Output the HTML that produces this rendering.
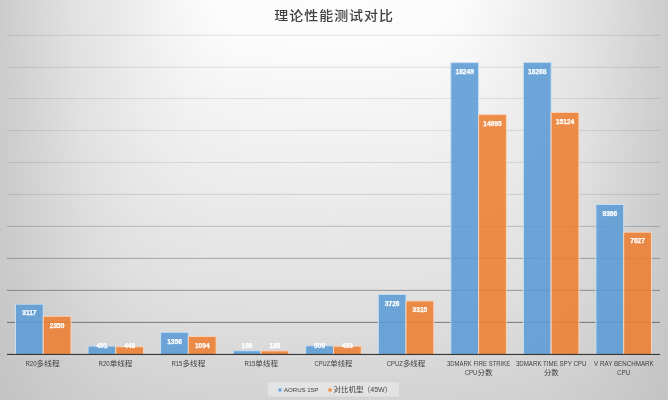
<!DOCTYPE html>
<html><head><meta charset="utf-8">
<style>
html,body{margin:0;padding:0;}
body{width:668px;height:400px;overflow:hidden;position:relative;
background:linear-gradient(90deg,#cccccc 0px,#d2d2d2 22px,#e1e1e1 74px,#f7f7f7 181px,#fcfcfc 213px,#fdfdfd 302px,#fdfdfd 334px,#fdfdfd 366px,#fcfcfc 455px,#f7f7f7 487px,#e1e1e1 594px,#d2d2d2 646px,#cccccc 668px) 0 0px/668px 2px no-repeat,
linear-gradient(90deg,#cccccc 0px,#d2d2d2 21px,#e1e1e1 74px,#f7f7f7 180px,#fcfcfc 214px,#fdfdfd 305px,#fdfdfd 334px,#fdfdfd 363px,#fcfcfc 454px,#f7f7f7 488px,#e1e1e1 594px,#d2d2d2 647px,#cccccc 668px) 0 2px/668px 2px no-repeat,
linear-gradient(90deg,#cccccc 0px,#d2d2d2 21px,#e1e1e1 74px,#f7f7f7 180px,#fcfcfc 214px,#fdfdfd 307px,#fdfdfd 334px,#fdfdfd 361px,#fcfcfc 454px,#f7f7f7 488px,#e1e1e1 594px,#d2d2d2 647px,#cccccc 668px) 0 4px/668px 2px no-repeat,
linear-gradient(90deg,#cccccc 0px,#d2d2d2 21px,#e1e1e1 74px,#f6f6f6 179px,#fcfcfc 215px,#fdfdfd 311px,#fdfdfd 334px,#fdfdfd 357px,#fcfcfc 453px,#f6f6f6 489px,#e1e1e1 594px,#d2d2d2 647px,#cccccc 668px) 0 6px/668px 2px no-repeat,
linear-gradient(90deg,#cccccc 0px,#d2d2d2 21px,#e1e1e1 74px,#f6f6f6 178px,#fcfcfc 216px,#fdfdfd 317px,#fdfdfd 334px,#fdfdfd 351px,#fcfcfc 452px,#f6f6f6 490px,#e1e1e1 594px,#d2d2d2 647px,#cccccc 668px) 0 8px/668px 2px no-repeat,
linear-gradient(90deg,#cccccc 0px,#d2d2d2 21px,#e1e1e1 74px,#f6f6f6 178px,#fcfcfc 217px,#fdfdfd 322px,#fdfdfd 334px,#fdfdfd 346px,#fcfcfc 451px,#f6f6f6 490px,#e1e1e1 594px,#d2d2d2 647px,#cccccc 668px) 0 10px/668px 2px no-repeat,
linear-gradient(90deg,#cccccc 0px,#d2d2d2 21px,#e1e1e1 74px,#f6f6f6 177px,#fcfcfc 217px,#fcfcfc 309px,#fcfcfc 334px,#fcfcfc 359px,#fcfcfc 451px,#f6f6f6 491px,#e1e1e1 594px,#d2d2d2 647px,#cccccc 668px) 0 12px/668px 2px no-repeat,
linear-gradient(90deg,#cccccc 0px,#d2d2d2 22px,#e1e1e1 74px,#f6f6f6 176px,#fbfbfb 216px,#fcfcfc 276px,#fcfcfc 334px,#fcfcfc 392px,#fbfbfb 452px,#f6f6f6 492px,#e1e1e1 594px,#d2d2d2 646px,#cccccc 668px) 0 14px/668px 2px no-repeat,
linear-gradient(90deg,#cccccc 0px,#d2d2d2 22px,#e1e1e1 74px,#f5f5f5 175px,#fbfbfb 215px,#fcfcfc 234px,#fcfcfc 334px,#fcfcfc 434px,#fbfbfb 453px,#f5f5f5 493px,#e1e1e1 594px,#d2d2d2 646px,#cccccc 668px) 0 16px/668px 2px no-repeat,
linear-gradient(90deg,#cccccc 0px,#d2d2d2 22px,#e1e1e1 74px,#f5f5f5 175px,#fbfbfb 215px,#fcfcfc 233px,#fcfcfc 334px,#fcfcfc 435px,#fbfbfb 453px,#f5f5f5 493px,#e1e1e1 594px,#d2d2d2 646px,#cccccc 668px) 0 18px/668px 2px no-repeat,
linear-gradient(90deg,#cccccc 0px,#d2d2d2 22px,#e1e1e1 74px,#f5f5f5 174px,#fbfbfb 214px,#fcfcfc 232px,#fcfcfc 334px,#fcfcfc 436px,#fbfbfb 454px,#f5f5f5 494px,#e1e1e1 594px,#d2d2d2 646px,#cccccc 668px) 0 20px/668px 2px no-repeat,
linear-gradient(90deg,#cccccc 0px,#d2d2d2 22px,#e1e1e1 74px,#f5f5f5 173px,#fbfbfb 214px,#fcfcfc 233px,#fcfcfc 334px,#fcfcfc 435px,#fbfbfb 454px,#f5f5f5 495px,#e1e1e1 594px,#d2d2d2 646px,#cccccc 668px) 0 22px/668px 2px no-repeat,
linear-gradient(90deg,#cccccc 0px,#d2d2d2 22px,#e1e1e1 74px,#f4f4f4 172px,#fafafa 213px,#fcfcfc 235px,#fcfcfc 334px,#fcfcfc 433px,#fafafa 455px,#f4f4f4 496px,#e1e1e1 594px,#d2d2d2 646px,#cccccc 668px) 0 24px/668px 2px no-repeat,
linear-gradient(90deg,#cccccc 0px,#d2d2d2 22px,#e1e1e1 75px,#f4f4f4 171px,#fafafa 212px,#fcfcfc 237px,#fcfcfc 334px,#fcfcfc 431px,#fafafa 456px,#f4f4f4 497px,#e1e1e1 593px,#d2d2d2 646px,#cccccc 668px) 0 26px/668px 2px no-repeat,
linear-gradient(90deg,#cccccc 0px,#d2d2d2 22px,#e1e1e1 75px,#f4f4f4 170px,#fafafa 211px,#fcfcfc 239px,#fcfcfc 334px,#fcfcfc 429px,#fafafa 457px,#f4f4f4 498px,#e1e1e1 593px,#d2d2d2 646px,#cccccc 668px) 0 28px/668px 2px no-repeat,
linear-gradient(90deg,#cccccc 0px,#d2d2d2 22px,#e1e1e1 75px,#f4f4f4 169px,#fafafa 210px,#fcfcfc 242px,#fcfcfc 334px,#fcfcfc 426px,#fafafa 458px,#f4f4f4 499px,#e1e1e1 593px,#d2d2d2 646px,#cccccc 668px) 0 30px/668px 2px no-repeat,
linear-gradient(90deg,#cccccc 0px,#d2d2d2 22px,#e1e1e1 75px,#f3f3f3 168px,#f9f9f9 209px,#fcfcfc 244px,#fcfcfc 334px,#fcfcfc 424px,#f9f9f9 459px,#f3f3f3 500px,#e1e1e1 593px,#d2d2d2 646px,#cccccc 668px) 0 32px/668px 2px no-repeat,
linear-gradient(90deg,#cccccc 0px,#d2d2d2 21px,#e1e1e1 75px,#f3f3f3 167px,#f9f9f9 208px,#fcfcfc 246px,#fcfcfc 334px,#fcfcfc 422px,#f9f9f9 460px,#f3f3f3 501px,#e1e1e1 593px,#d2d2d2 647px,#cccccc 668px) 0 34px/668px 2px no-repeat,
linear-gradient(90deg,#cccccc 0px,#d2d2d2 21px,#e1e1e1 75px,#f3f3f3 166px,#f9f9f9 207px,#fcfcfc 246px,#fcfcfc 334px,#fcfcfc 422px,#f9f9f9 461px,#f3f3f3 502px,#e1e1e1 593px,#d2d2d2 647px,#cccccc 668px) 0 36px/668px 2px no-repeat,
linear-gradient(90deg,#cccccc 0px,#d2d2d2 21px,#e1e1e1 75px,#f3f3f3 165px,#f9f9f9 207px,#fbfbfb 246px,#fcfcfc 334px,#fbfbfb 422px,#f9f9f9 461px,#f3f3f3 503px,#e1e1e1 593px,#d2d2d2 647px,#cccccc 668px) 0 38px/668px 2px no-repeat,
linear-gradient(90deg,#cccccc 0px,#d2d2d2 21px,#e1e1e1 75px,#f2f2f2 164px,#f8f8f8 206px,#fbfbfb 245px,#fcfcfc 309px,#fcfcfc 334px,#fcfcfc 359px,#fbfbfb 423px,#f8f8f8 462px,#f2f2f2 504px,#e1e1e1 593px,#d2d2d2 647px,#cccccc 668px) 0 40px/668px 2px no-repeat,
linear-gradient(90deg,#cccccc 0px,#d2d2d2 21px,#e1e1e1 75px,#f2f2f2 163px,#f8f8f8 205px,#fbfbfb 244px,#fcfcfc 319px,#fcfcfc 334px,#fcfcfc 349px,#fbfbfb 424px,#f8f8f8 463px,#f2f2f2 505px,#e1e1e1 593px,#d2d2d2 647px,#cccccc 668px) 0 42px/668px 2px no-repeat,
linear-gradient(90deg,#cccccc 0px,#d1d1d1 20px,#e1e1e1 75px,#f2f2f2 162px,#f8f8f8 204px,#fbfbfb 243px,#fbfbfb 316px,#fbfbfb 334px,#fbfbfb 352px,#fbfbfb 425px,#f8f8f8 464px,#f2f2f2 506px,#e1e1e1 593px,#d1d1d1 648px,#cccccc 668px) 0 44px/668px 2px no-repeat,
linear-gradient(90deg,#cccccc 0px,#d1d1d1 20px,#e1e1e1 75px,#f2f2f2 161px,#f8f8f8 203px,#fafafa 242px,#fbfbfb 314px,#fbfbfb 334px,#fbfbfb 354px,#fafafa 426px,#f8f8f8 465px,#f2f2f2 507px,#e1e1e1 593px,#d1d1d1 648px,#cccccc 668px) 0 46px/668px 2px no-repeat,
linear-gradient(90deg,#cccccc 0px,#d1d1d1 20px,#e1e1e1 76px,#f1f1f1 160px,#f7f7f7 202px,#fafafa 241px,#fbfbfb 312px,#fbfbfb 334px,#fbfbfb 356px,#fafafa 427px,#f7f7f7 466px,#f1f1f1 508px,#e1e1e1 592px,#d1d1d1 648px,#cccccc 668px) 0 48px/668px 2px no-repeat,
linear-gradient(90deg,#cccccc 0px,#d1d1d1 20px,#e1e1e1 76px,#f1f1f1 159px,#f7f7f7 201px,#fafafa 241px,#fbfbfb 314px,#fbfbfb 334px,#fbfbfb 354px,#fafafa 427px,#f7f7f7 467px,#f1f1f1 509px,#e1e1e1 592px,#d1d1d1 648px,#cccccc 668px) 0 50px/668px 2px no-repeat,
linear-gradient(90deg,#cccccc 0px,#d1d1d1 20px,#e1e1e1 76px,#f1f1f1 158px,#f7f7f7 201px,#fafafa 241px,#fbfbfb 315px,#fbfbfb 334px,#fbfbfb 353px,#fafafa 427px,#f7f7f7 467px,#f1f1f1 510px,#e1e1e1 592px,#d1d1d1 648px,#cccccc 668px) 0 52px/668px 2px no-repeat,
linear-gradient(90deg,#cccccc 0px,#d1d1d1 20px,#e1e1e1 76px,#f1f1f1 157px,#f7f7f7 200px,#fafafa 240px,#fafafa 313px,#fafafa 334px,#fafafa 355px,#fafafa 428px,#f7f7f7 468px,#f1f1f1 511px,#e1e1e1 592px,#d1d1d1 648px,#cccccc 668px) 0 54px/668px 2px no-repeat,
linear-gradient(90deg,#cccccc 0px,#d1d1d1 20px,#e1e1e1 76px,#f0f0f0 156px,#f6f6f6 199px,#f9f9f9 239px,#fafafa 311px,#fafafa 334px,#fafafa 357px,#f9f9f9 429px,#f6f6f6 469px,#f0f0f0 512px,#e1e1e1 592px,#d1d1d1 648px,#cccccc 668px) 0 56px/668px 2px no-repeat,
linear-gradient(90deg,#cccccc 0px,#d1d1d1 20px,#e1e1e1 76px,#f0f0f0 155px,#f6f6f6 198px,#f9f9f9 238px,#fafafa 309px,#fafafa 334px,#fafafa 359px,#f9f9f9 430px,#f6f6f6 470px,#f0f0f0 513px,#e1e1e1 592px,#d1d1d1 648px,#cccccc 668px) 0 58px/668px 2px no-repeat,
linear-gradient(90deg,#cccccc 0px,#d1d1d1 20px,#e1e1e1 76px,#f0f0f0 154px,#f6f6f6 197px,#f9f9f9 237px,#fafafa 307px,#fafafa 334px,#fafafa 361px,#f9f9f9 431px,#f6f6f6 471px,#f0f0f0 514px,#e1e1e1 592px,#d1d1d1 648px,#cccccc 668px) 0 60px/668px 2px no-repeat,
linear-gradient(90deg,#cccccc 0px,#d1d1d1 20px,#e1e1e1 76px,#f0f0f0 153px,#f6f6f6 196px,#f9f9f9 236px,#fafafa 305px,#fafafa 334px,#fafafa 363px,#f9f9f9 432px,#f6f6f6 472px,#f0f0f0 515px,#e1e1e1 592px,#d1d1d1 648px,#cccccc 668px) 0 62px/668px 2px no-repeat,
linear-gradient(90deg,#cccccc 0px,#d1d1d1 20px,#e1e1e1 77px,#efefef 153px,#f6f6f6 196px,#f8f8f8 236px,#f9f9f9 306px,#f9f9f9 334px,#f9f9f9 362px,#f8f8f8 432px,#f6f6f6 472px,#efefef 515px,#e1e1e1 591px,#d1d1d1 648px,#cccccc 668px) 0 64px/668px 2px no-repeat,
linear-gradient(90deg,#cccccc 0px,#d1d1d1 21px,#e1e1e1 77px,#efefef 152px,#f5f5f5 195px,#f8f8f8 236px,#f9f9f9 308px,#f9f9f9 334px,#f9f9f9 360px,#f8f8f8 432px,#f5f5f5 473px,#efefef 516px,#e1e1e1 591px,#d1d1d1 647px,#cccccc 668px) 0 66px/668px 2px no-repeat,
linear-gradient(90deg,#cccccc 0px,#d1d1d1 21px,#e1e1e1 77px,#efefef 151px,#f5f5f5 194px,#f8f8f8 235px,#f9f9f9 306px,#f9f9f9 334px,#f9f9f9 362px,#f8f8f8 433px,#f5f5f5 474px,#efefef 517px,#e1e1e1 591px,#d1d1d1 647px,#cccccc 668px) 0 68px/668px 2px no-repeat,
linear-gradient(90deg,#cccccc 0px,#d1d1d1 20px,#e1e1e1 77px,#efefef 150px,#f5f5f5 193px,#f8f8f8 234px,#f9f9f9 304px,#f9f9f9 334px,#f9f9f9 364px,#f8f8f8 434px,#f5f5f5 475px,#efefef 518px,#e1e1e1 591px,#d1d1d1 648px,#cccccc 668px) 0 70px/668px 2px no-repeat,
linear-gradient(90deg,#cccccc 0px,#d1d1d1 20px,#e1e1e1 77px,#eeeeee 149px,#f5f5f5 193px,#f8f8f8 234px,#f8f8f8 305px,#f8f8f8 334px,#f8f8f8 363px,#f8f8f8 434px,#f5f5f5 475px,#eeeeee 519px,#e1e1e1 591px,#d1d1d1 648px,#cccccc 668px) 0 72px/668px 2px no-repeat,
linear-gradient(90deg,#cccccc 0px,#d1d1d1 20px,#e1e1e1 77px,#eeeeee 148px,#f4f4f4 192px,#f7f7f7 233px,#f8f8f8 303px,#f8f8f8 334px,#f8f8f8 365px,#f7f7f7 435px,#f4f4f4 476px,#eeeeee 520px,#e1e1e1 591px,#d1d1d1 648px,#cccccc 668px) 0 74px/668px 2px no-repeat,
linear-gradient(90deg,#cccccc 0px,#d1d1d1 20px,#e1e1e1 77px,#eeeeee 147px,#f4f4f4 191px,#f7f7f7 232px,#f8f8f8 301px,#f8f8f8 334px,#f8f8f8 367px,#f7f7f7 436px,#f4f4f4 477px,#eeeeee 521px,#e1e1e1 591px,#d1d1d1 648px,#cccccc 668px) 0 76px/668px 2px no-repeat,
linear-gradient(90deg,#cccccc 0px,#d1d1d1 20px,#e1e1e1 78px,#eeeeee 147px,#f4f4f4 191px,#f7f7f7 232px,#f8f8f8 303px,#f8f8f8 334px,#f8f8f8 365px,#f7f7f7 436px,#f4f4f4 477px,#eeeeee 521px,#e1e1e1 590px,#d1d1d1 648px,#cccccc 668px) 0 78px/668px 2px no-repeat,
linear-gradient(90deg,#cccccc 0px,#d1d1d1 20px,#e1e1e1 78px,#eeeeee 146px,#f4f4f4 190px,#f7f7f7 231px,#f8f8f8 301px,#f8f8f8 334px,#f8f8f8 367px,#f7f7f7 437px,#f4f4f4 478px,#eeeeee 522px,#e1e1e1 590px,#d1d1d1 648px,#cccccc 668px) 0 80px/668px 2px no-repeat,
linear-gradient(90deg,#cccccc 0px,#d1d1d1 19px,#e1e1e1 78px,#ededed 146px,#f4f4f4 190px,#f6f6f6 232px,#f7f7f7 305px,#f7f7f7 334px,#f7f7f7 363px,#f6f6f6 436px,#f4f4f4 478px,#ededed 522px,#e1e1e1 590px,#d1d1d1 649px,#cccccc 668px) 0 82px/668px 2px no-repeat,
linear-gradient(90deg,#cccccc 0px,#d1d1d1 19px,#e1e1e1 78px,#ededed 145px,#f3f3f3 189px,#f6f6f6 231px,#f7f7f7 303px,#f7f7f7 334px,#f7f7f7 365px,#f6f6f6 437px,#f3f3f3 479px,#ededed 523px,#e1e1e1 590px,#d1d1d1 649px,#cccccc 668px) 0 84px/668px 2px no-repeat,
linear-gradient(90deg,#cccccc 0px,#d1d1d1 19px,#e1e1e1 78px,#ededed 145px,#f3f3f3 189px,#f6f6f6 231px,#f7f7f7 305px,#f7f7f7 334px,#f7f7f7 363px,#f6f6f6 437px,#f3f3f3 479px,#ededed 523px,#e1e1e1 590px,#d1d1d1 649px,#cccccc 668px) 0 86px/668px 2px no-repeat,
linear-gradient(90deg,#cccccc 0px,#d1d1d1 20px,#e1e1e1 78px,#ededed 145px,#f3f3f3 190px,#f6f6f6 232px,#f7f7f7 310px,#f7f7f7 334px,#f7f7f7 358px,#f6f6f6 436px,#f3f3f3 478px,#ededed 523px,#e1e1e1 590px,#d1d1d1 648px,#cccccc 668px) 0 88px/668px 2px no-repeat,
linear-gradient(90deg,#cccccc 0px,#d1d1d1 20px,#e1e1e1 78px,#ededed 144px,#f3f3f3 189px,#f6f6f6 231px,#f7f7f7 308px,#f7f7f7 334px,#f7f7f7 360px,#f6f6f6 437px,#f3f3f3 479px,#ededed 524px,#e1e1e1 590px,#d1d1d1 648px,#cccccc 668px) 0 90px/668px 2px no-repeat,
linear-gradient(90deg,#cccccc 0px,#d1d1d1 20px,#e1e1e1 79px,#ededed 144px,#f3f3f3 189px,#f5f5f5 232px,#f6f6f6 313px,#f6f6f6 334px,#f6f6f6 355px,#f5f5f5 436px,#f3f3f3 479px,#ededed 524px,#e1e1e1 589px,#d1d1d1 648px,#cccccc 668px) 0 92px/668px 2px no-repeat,
linear-gradient(90deg,#cccccc 0px,#d1d1d1 20px,#e1e1e1 79px,#ededed 144px,#f2f2f2 189px,#f5f5f5 232px,#f6f6f6 315px,#f6f6f6 334px,#f6f6f6 353px,#f5f5f5 436px,#f2f2f2 479px,#ededed 524px,#e1e1e1 589px,#d1d1d1 648px,#cccccc 668px) 0 94px/668px 2px no-repeat,
linear-gradient(90deg,#cccccc 0px,#d1d1d1 20px,#e1e1e1 79px,#ededed 144px,#f2f2f2 189px,#f5f5f5 232px,#f6f6f6 317px,#f6f6f6 334px,#f6f6f6 351px,#f5f5f5 436px,#f2f2f2 479px,#ededed 524px,#e1e1e1 589px,#d1d1d1 648px,#cccccc 668px) 0 96px/668px 2px no-repeat,
linear-gradient(90deg,#cccccc 0px,#d1d1d1 20px,#e1e1e1 79px,#ececec 143px,#f2f2f2 189px,#f5f5f5 233px,#f6f6f6 324px,#f6f6f6 334px,#f6f6f6 344px,#f5f5f5 435px,#f2f2f2 479px,#ececec 525px,#e1e1e1 589px,#d1d1d1 648px,#cccccc 668px) 0 98px/668px 2px no-repeat,
linear-gradient(90deg,#cccccc 0px,#d1d1d1 20px,#e1e1e1 79px,#ececec 143px,#f2f2f2 189px,#f5f5f5 233px,#f5f5f5 326px,#f5f5f5 334px,#f5f5f5 342px,#f5f5f5 435px,#f2f2f2 479px,#ececec 525px,#e1e1e1 589px,#d1d1d1 648px,#cccccc 668px) 0 100px/668px 2px no-repeat,
linear-gradient(90deg,#cccccc 0px,#d1d1d1 20px,#e1e1e1 79px,#ececec 142px,#f2f2f2 188px,#f4f4f4 232px,#f5f5f5 323px,#f5f5f5 334px,#f5f5f5 345px,#f4f4f4 436px,#f2f2f2 480px,#ececec 526px,#e1e1e1 589px,#d1d1d1 648px,#cccccc 668px) 0 102px/668px 2px no-repeat,
linear-gradient(90deg,#cccccc 0px,#d1d1d1 20px,#e1e1e1 80px,#ececec 143px,#f2f2f2 189px,#f4f4f4 233px,#f5f5f5 331px,#f5f5f5 334px,#f5f5f5 337px,#f4f4f4 435px,#f2f2f2 479px,#ececec 525px,#e1e1e1 588px,#d1d1d1 648px,#cccccc 668px) 0 104px/668px 2px no-repeat,
linear-gradient(90deg,#cccccc 0px,#d0d0d0 19px,#e1e1e1 80px,#ececec 142px,#f1f1f1 188px,#f4f4f4 232px,#f5f5f5 328px,#f5f5f5 334px,#f5f5f5 340px,#f4f4f4 436px,#f1f1f1 480px,#ececec 526px,#e1e1e1 588px,#d0d0d0 649px,#cccccc 668px) 0 106px/668px 2px no-repeat,
linear-gradient(90deg,#cccccc 0px,#d1d1d1 20px,#e1e1e1 80px,#ececec 142px,#f1f1f1 189px,#f4f4f4 234px,#f5f5f5 334px,#f4f4f4 434px,#f1f1f1 479px,#ececec 526px,#e1e1e1 588px,#d1d1d1 648px,#cccccc 668px) 0 108px/668px 2px no-repeat,
linear-gradient(90deg,#cccccc 0px,#d1d1d1 20px,#e1e1e1 80px,#ececec 142px,#f1f1f1 189px,#f4f4f4 234px,#f4f4f4 334px,#f4f4f4 434px,#f1f1f1 479px,#ececec 526px,#e1e1e1 588px,#d1d1d1 648px,#cccccc 668px) 0 110px/668px 2px no-repeat,
linear-gradient(90deg,#cccccc 0px,#d1d1d1 20px,#e1e1e1 80px,#ebebeb 141px,#f1f1f1 188px,#f3f3f3 233px,#f4f4f4 334px,#f3f3f3 435px,#f1f1f1 480px,#ebebeb 527px,#e1e1e1 588px,#d1d1d1 648px,#cccccc 668px) 0 112px/668px 2px no-repeat,
linear-gradient(90deg,#cccccc 0px,#d1d1d1 20px,#e1e1e1 80px,#ebebeb 141px,#f1f1f1 188px,#f3f3f3 234px,#f4f4f4 334px,#f3f3f3 434px,#f1f1f1 480px,#ebebeb 527px,#e1e1e1 588px,#d1d1d1 648px,#cccccc 668px) 0 114px/668px 2px no-repeat,
linear-gradient(90deg,#cccccc 0px,#d1d1d1 21px,#e1e1e1 81px,#ebebeb 141px,#f1f1f1 188px,#f3f3f3 234px,#f4f4f4 334px,#f3f3f3 434px,#f1f1f1 480px,#ebebeb 527px,#e1e1e1 587px,#d1d1d1 647px,#cccccc 668px) 0 116px/668px 2px no-repeat,
linear-gradient(90deg,#cccccc 0px,#d0d0d0 20px,#e1e1e1 81px,#ebebeb 141px,#f1f1f1 189px,#f3f3f3 236px,#f3f3f3 334px,#f3f3f3 432px,#f1f1f1 479px,#ebebeb 527px,#e1e1e1 587px,#d0d0d0 648px,#cccccc 668px) 0 118px/668px 2px no-repeat,
linear-gradient(90deg,#cccccc 0px,#d0d0d0 20px,#e1e1e1 81px,#ebebeb 141px,#f0f0f0 189px,#f3f3f3 236px,#f3f3f3 334px,#f3f3f3 432px,#f0f0f0 479px,#ebebeb 527px,#e1e1e1 587px,#d0d0d0 648px,#cccccc 668px) 0 120px/668px 2px no-repeat,
linear-gradient(90deg,#cbcbcb 0px,#d0d0d0 20px,#e1e1e1 81px,#ebebeb 141px,#f0f0f0 189px,#f3f3f3 236px,#f3f3f3 334px,#f3f3f3 432px,#f0f0f0 479px,#ebebeb 527px,#e1e1e1 587px,#d0d0d0 648px,#cbcbcb 668px) 0 122px/668px 2px no-repeat,
linear-gradient(90deg,#cbcbcb 0px,#d0d0d0 20px,#e1e1e1 81px,#ebebeb 140px,#f0f0f0 188px,#f2f2f2 235px,#f3f3f3 334px,#f2f2f2 433px,#f0f0f0 480px,#ebebeb 528px,#e1e1e1 587px,#d0d0d0 648px,#cbcbcb 668px) 0 124px/668px 2px no-repeat,
linear-gradient(90deg,#cbcbcb 0px,#d0d0d0 20px,#e1e1e1 82px,#ebebeb 141px,#f0f0f0 189px,#f2f2f2 237px,#f3f3f3 334px,#f2f2f2 431px,#f0f0f0 479px,#ebebeb 527px,#e1e1e1 586px,#d0d0d0 648px,#cbcbcb 668px) 0 126px/668px 2px no-repeat,
linear-gradient(90deg,#cbcbcb 0px,#d0d0d0 20px,#e1e1e1 82px,#eaeaea 140px,#f0f0f0 188px,#f2f2f2 236px,#f2f2f2 334px,#f2f2f2 432px,#f0f0f0 480px,#eaeaea 528px,#e1e1e1 586px,#d0d0d0 648px,#cbcbcb 668px) 0 128px/668px 2px no-repeat,
linear-gradient(90deg,#cbcbcb 0px,#d1d1d1 21px,#e1e1e1 82px,#eaeaea 140px,#efefef 188px,#f2f2f2 236px,#f2f2f2 334px,#f2f2f2 432px,#efefef 480px,#eaeaea 528px,#e1e1e1 586px,#d1d1d1 647px,#cbcbcb 668px) 0 130px/668px 2px no-repeat,
linear-gradient(90deg,#cbcbcb 0px,#d0d0d0 21px,#e1e1e1 82px,#eaeaea 140px,#efefef 188px,#f2f2f2 237px,#f2f2f2 334px,#f2f2f2 431px,#efefef 480px,#eaeaea 528px,#e1e1e1 586px,#d0d0d0 647px,#cbcbcb 668px) 0 132px/668px 2px no-repeat,
linear-gradient(90deg,#cbcbcb 0px,#d0d0d0 21px,#e1e1e1 82px,#eaeaea 140px,#efefef 188px,#f1f1f1 237px,#f2f2f2 334px,#f1f1f1 431px,#efefef 480px,#eaeaea 528px,#e1e1e1 586px,#d0d0d0 647px,#cbcbcb 668px) 0 134px/668px 2px no-repeat,
linear-gradient(90deg,#cbcbcb 0px,#d0d0d0 21px,#e1e1e1 83px,#eaeaea 140px,#efefef 187px,#f1f1f1 236px,#f2f2f2 334px,#f1f1f1 432px,#efefef 481px,#eaeaea 528px,#e1e1e1 585px,#d0d0d0 647px,#cbcbcb 668px) 0 136px/668px 2px no-repeat,
linear-gradient(90deg,#cbcbcb 0px,#d0d0d0 21px,#e1e1e1 83px,#eaeaea 140px,#efefef 187px,#f1f1f1 237px,#f1f1f1 334px,#f1f1f1 431px,#efefef 481px,#eaeaea 528px,#e1e1e1 585px,#d0d0d0 647px,#cbcbcb 668px) 0 138px/668px 2px no-repeat,
linear-gradient(90deg,#cbcbcb 0px,#d0d0d0 21px,#e1e1e1 83px,#eaeaea 140px,#eeeeee 187px,#f1f1f1 237px,#f1f1f1 334px,#f1f1f1 431px,#eeeeee 481px,#eaeaea 528px,#e1e1e1 585px,#d0d0d0 647px,#cbcbcb 668px) 0 140px/668px 2px no-repeat,
linear-gradient(90deg,#cbcbcb 0px,#d0d0d0 21px,#e1e1e1 83px,#eaeaea 140px,#eeeeee 187px,#f0f0f0 237px,#f1f1f1 334px,#f0f0f0 431px,#eeeeee 481px,#eaeaea 528px,#e1e1e1 585px,#d0d0d0 647px,#cbcbcb 668px) 0 142px/668px 2px no-repeat,
linear-gradient(90deg,#cbcbcb 0px,#d0d0d0 21px,#e1e1e1 84px,#e9e9e9 140px,#eeeeee 186px,#f0f0f0 236px,#f1f1f1 334px,#f0f0f0 432px,#eeeeee 482px,#e9e9e9 528px,#e1e1e1 584px,#d0d0d0 647px,#cbcbcb 668px) 0 144px/668px 2px no-repeat,
linear-gradient(90deg,#cbcbcb 0px,#d0d0d0 21px,#e1e1e1 84px,#e9e9e9 140px,#eeeeee 186px,#f0f0f0 237px,#f0f0f0 334px,#f0f0f0 431px,#eeeeee 482px,#e9e9e9 528px,#e1e1e1 584px,#d0d0d0 647px,#cbcbcb 668px) 0 146px/668px 2px no-repeat,
linear-gradient(90deg,#cbcbcb 0px,#d0d0d0 22px,#e0e0e0 84px,#e9e9e9 140px,#eeeeee 186px,#f0f0f0 237px,#f0f0f0 334px,#f0f0f0 431px,#eeeeee 482px,#e9e9e9 528px,#e0e0e0 584px,#d0d0d0 646px,#cbcbcb 668px) 0 148px/668px 2px no-repeat,
linear-gradient(90deg,#cbcbcb 0px,#d0d0d0 22px,#e0e0e0 84px,#e9e9e9 139px,#ededed 185px,#f0f0f0 236px,#f0f0f0 334px,#f0f0f0 432px,#ededed 483px,#e9e9e9 529px,#e0e0e0 584px,#d0d0d0 646px,#cbcbcb 668px) 0 150px/668px 2px no-repeat,
linear-gradient(90deg,#cbcbcb 0px,#d0d0d0 21px,#e0e0e0 84px,#e9e9e9 139px,#ededed 185px,#efefef 237px,#f0f0f0 334px,#efefef 431px,#ededed 483px,#e9e9e9 529px,#e0e0e0 584px,#d0d0d0 647px,#cbcbcb 668px) 0 152px/668px 2px no-repeat,
linear-gradient(90deg,#cbcbcb 0px,#d0d0d0 21px,#e0e0e0 85px,#e9e9e9 140px,#ededed 186px,#efefef 239px,#f0f0f0 334px,#efefef 429px,#ededed 482px,#e9e9e9 528px,#e0e0e0 583px,#d0d0d0 647px,#cbcbcb 668px) 0 154px/668px 2px no-repeat,
linear-gradient(90deg,#cbcbcb 0px,#d0d0d0 22px,#e0e0e0 85px,#e9e9e9 140px,#ededed 186px,#efefef 240px,#efefef 334px,#efefef 428px,#ededed 482px,#e9e9e9 528px,#e0e0e0 583px,#d0d0d0 646px,#cbcbcb 668px) 0 156px/668px 2px no-repeat,
linear-gradient(90deg,#cbcbcb 0px,#d0d0d0 22px,#e0e0e0 85px,#e8e8e8 139px,#ededed 185px,#efefef 240px,#efefef 334px,#efefef 428px,#ededed 483px,#e8e8e8 529px,#e0e0e0 583px,#d0d0d0 646px,#cbcbcb 668px) 0 158px/668px 2px no-repeat,
linear-gradient(90deg,#cbcbcb 0px,#d0d0d0 22px,#e0e0e0 85px,#e8e8e8 139px,#ededed 185px,#efefef 241px,#efefef 334px,#efefef 427px,#ededed 483px,#e8e8e8 529px,#e0e0e0 583px,#d0d0d0 646px,#cbcbcb 668px) 0 160px/668px 2px no-repeat,
linear-gradient(90deg,#cbcbcb 0px,#d0d0d0 22px,#e0e0e0 86px,#e8e8e8 140px,#ededed 186px,#eeeeee 243px,#efefef 334px,#eeeeee 425px,#ededed 482px,#e8e8e8 528px,#e0e0e0 582px,#d0d0d0 646px,#cbcbcb 668px) 0 162px/668px 2px no-repeat,
linear-gradient(90deg,#cbcbcb 0px,#d0d0d0 22px,#e0e0e0 86px,#e8e8e8 140px,#ececec 186px,#eeeeee 244px,#efefef 334px,#eeeeee 424px,#ececec 482px,#e8e8e8 528px,#e0e0e0 582px,#d0d0d0 646px,#cbcbcb 668px) 0 164px/668px 2px no-repeat,
linear-gradient(90deg,#cbcbcb 0px,#d0d0d0 22px,#e0e0e0 86px,#e8e8e8 140px,#ececec 186px,#eeeeee 244px,#eeeeee 334px,#eeeeee 424px,#ececec 482px,#e8e8e8 528px,#e0e0e0 582px,#d0d0d0 646px,#cbcbcb 668px) 0 166px/668px 2px no-repeat,
linear-gradient(90deg,#cbcbcb 0px,#d0d0d0 22px,#e0e0e0 86px,#e8e8e8 139px,#ececec 186px,#eeeeee 244px,#eeeeee 334px,#eeeeee 424px,#ececec 482px,#e8e8e8 529px,#e0e0e0 582px,#d0d0d0 646px,#cbcbcb 668px) 0 168px/668px 2px no-repeat,
linear-gradient(90deg,#cbcbcb 0px,#d0d0d0 23px,#e0e0e0 87px,#e8e8e8 140px,#ececec 187px,#eeeeee 246px,#eeeeee 334px,#eeeeee 422px,#ececec 481px,#e8e8e8 528px,#e0e0e0 581px,#d0d0d0 645px,#cbcbcb 668px) 0 170px/668px 2px no-repeat,
linear-gradient(90deg,#cbcbcb 0px,#d0d0d0 23px,#e0e0e0 87px,#e8e8e8 140px,#ececec 187px,#ededed 246px,#eeeeee 334px,#ededed 422px,#ececec 481px,#e8e8e8 528px,#e0e0e0 581px,#d0d0d0 645px,#cbcbcb 668px) 0 172px/668px 2px no-repeat,
linear-gradient(90deg,#cbcbcb 0px,#d0d0d0 23px,#e0e0e0 87px,#e7e7e7 139px,#ebebeb 186px,#ededed 245px,#ededed 334px,#ededed 423px,#ebebeb 482px,#e7e7e7 529px,#e0e0e0 581px,#d0d0d0 645px,#cbcbcb 668px) 0 174px/668px 2px no-repeat,
linear-gradient(90deg,#cbcbcb 0px,#d0d0d0 23px,#e0e0e0 87px,#e7e7e7 138px,#ebebeb 185px,#ededed 244px,#ededed 334px,#ededed 424px,#ebebeb 483px,#e7e7e7 530px,#e0e0e0 581px,#d0d0d0 645px,#cbcbcb 668px) 0 176px/668px 2px no-repeat,
linear-gradient(90deg,#cbcbcb 0px,#d0d0d0 23px,#e0e0e0 87px,#e7e7e7 136px,#ebebeb 183px,#ededed 241px,#ededed 334px,#ededed 427px,#ebebeb 485px,#e7e7e7 532px,#e0e0e0 581px,#d0d0d0 645px,#cbcbcb 668px) 0 178px/668px 2px no-repeat,
linear-gradient(90deg,#cbcbcb 0px,#d0d0d0 24px,#e0e0e0 87px,#e7e7e7 135px,#ebebeb 182px,#ededed 240px,#ededed 334px,#ededed 428px,#ebebeb 486px,#e7e7e7 533px,#e0e0e0 581px,#d0d0d0 644px,#cbcbcb 668px) 0 180px/668px 2px no-repeat,
linear-gradient(90deg,#cbcbcb 0px,#d0d0d0 24px,#e0e0e0 87px,#e6e6e6 134px,#eaeaea 181px,#ececec 239px,#ededed 334px,#ececec 429px,#eaeaea 487px,#e6e6e6 534px,#e0e0e0 581px,#d0d0d0 644px,#cbcbcb 668px) 0 182px/668px 2px no-repeat,
linear-gradient(90deg,#cbcbcb 0px,#d0d0d0 24px,#dfdfdf 87px,#e6e6e6 132px,#eaeaea 179px,#ececec 236px,#ececec 334px,#ececec 432px,#eaeaea 489px,#e6e6e6 536px,#dfdfdf 581px,#d0d0d0 644px,#cbcbcb 668px) 0 184px/668px 2px no-repeat,
linear-gradient(90deg,#cbcbcb 0px,#d0d0d0 24px,#dfdfdf 86px,#e5e5e5 126px,#eaeaea 174px,#ececec 229px,#ececec 334px,#ececec 439px,#eaeaea 494px,#e5e5e5 542px,#dfdfdf 582px,#d0d0d0 644px,#cbcbcb 668px) 0 186px/668px 2px no-repeat,
linear-gradient(90deg,#cbcbcb 0px,#d0d0d0 24px,#dfdfdf 86px,#e5e5e5 123px,#e9e9e9 171px,#ececec 225px,#ececec 334px,#ececec 443px,#e9e9e9 497px,#e5e5e5 545px,#dfdfdf 582px,#d0d0d0 644px,#cbcbcb 668px) 0 188px/668px 2px no-repeat,
linear-gradient(90deg,#cacaca 0px,#d0d0d0 25px,#dfdfdf 86px,#e4e4e4 119px,#e9e9e9 167px,#ebebeb 220px,#ececec 334px,#ebebeb 448px,#e9e9e9 501px,#e4e4e4 549px,#dfdfdf 582px,#d0d0d0 643px,#cacaca 668px) 0 190px/668px 2px no-repeat,
linear-gradient(90deg,#cacaca 0px,#d0d0d0 25px,#dfdfdf 86px,#e3e3e3 115px,#e8e8e8 163px,#ebebeb 215px,#ececec 334px,#ebebeb 453px,#e8e8e8 505px,#e3e3e3 553px,#dfdfdf 582px,#d0d0d0 643px,#cacaca 668px) 0 192px/668px 2px no-repeat,
linear-gradient(90deg,#cacaca 0px,#d0d0d0 25px,#dfdfdf 86px,#e3e3e3 112px,#e8e8e8 161px,#ebebeb 213px,#ebebeb 331px,#ebebeb 334px,#ebebeb 337px,#ebebeb 455px,#e8e8e8 507px,#e3e3e3 556px,#dfdfdf 582px,#d0d0d0 643px,#cacaca 668px) 0 194px/668px 2px no-repeat,
linear-gradient(90deg,#cacaca 0px,#d0d0d0 25px,#dedede 85px,#e2e2e2 107px,#e8e8e8 156px,#eaeaea 207px,#ebebeb 304px,#ebebeb 334px,#ebebeb 364px,#eaeaea 461px,#e8e8e8 512px,#e2e2e2 561px,#dedede 583px,#d0d0d0 643px,#cacaca 668px) 0 196px/668px 2px no-repeat,
linear-gradient(90deg,#cacaca 0px,#d0d0d0 26px,#dedede 86px,#e2e2e2 109px,#e8e8e8 158px,#eaeaea 210px,#ebebeb 319px,#ebebeb 334px,#ebebeb 349px,#eaeaea 458px,#e8e8e8 510px,#e2e2e2 559px,#dedede 582px,#d0d0d0 642px,#cacaca 668px) 0 198px/668px 2px no-repeat,
linear-gradient(90deg,#cacaca 0px,#d0d0d0 26px,#dedede 86px,#e2e2e2 108px,#e7e7e7 157px,#eaeaea 209px,#ebebeb 316px,#ebebeb 334px,#ebebeb 352px,#eaeaea 459px,#e7e7e7 511px,#e2e2e2 560px,#dedede 582px,#d0d0d0 642px,#cacaca 668px) 0 200px/668px 2px no-repeat,
linear-gradient(90deg,#cacaca 0px,#d0d0d0 26px,#dedede 85px,#e2e2e2 106px,#e7e7e7 155px,#eaeaea 207px,#ebebeb 309px,#ebebeb 334px,#ebebeb 359px,#eaeaea 461px,#e7e7e7 513px,#e2e2e2 562px,#dedede 583px,#d0d0d0 642px,#cacaca 668px) 0 202px/668px 2px no-repeat,
linear-gradient(90deg,#cacaca 0px,#d0d0d0 26px,#dedede 85px,#e2e2e2 107px,#e7e7e7 156px,#eaeaea 208px,#eaeaea 315px,#eaeaea 334px,#eaeaea 353px,#eaeaea 460px,#e7e7e7 512px,#e2e2e2 561px,#dedede 583px,#d0d0d0 642px,#cacaca 668px) 0 204px/668px 2px no-repeat,
linear-gradient(90deg,#cacaca 0px,#d0d0d0 27px,#dedede 86px,#e2e2e2 108px,#e7e7e7 157px,#e9e9e9 210px,#eaeaea 328px,#eaeaea 334px,#eaeaea 340px,#e9e9e9 458px,#e7e7e7 511px,#e2e2e2 560px,#dedede 582px,#d0d0d0 641px,#cacaca 668px) 0 206px/668px 2px no-repeat,
linear-gradient(90deg,#cacaca 0px,#d0d0d0 27px,#dedede 85px,#e1e1e1 107px,#e7e7e7 156px,#e9e9e9 209px,#eaeaea 324px,#eaeaea 334px,#eaeaea 344px,#e9e9e9 459px,#e7e7e7 512px,#e1e1e1 561px,#dedede 583px,#d0d0d0 641px,#cacaca 668px) 0 208px/668px 2px no-repeat,
linear-gradient(90deg,#cacaca 0px,#d0d0d0 27px,#dddddd 85px,#e1e1e1 108px,#e7e7e7 157px,#e9e9e9 211px,#eaeaea 334px,#e9e9e9 457px,#e7e7e7 511px,#e1e1e1 560px,#dddddd 583px,#d0d0d0 641px,#cacaca 668px) 0 210px/668px 2px no-repeat,
linear-gradient(90deg,#cacaca 0px,#d0d0d0 27px,#dddddd 85px,#e1e1e1 108px,#e6e6e6 157px,#e9e9e9 211px,#eaeaea 334px,#e9e9e9 457px,#e6e6e6 511px,#e1e1e1 560px,#dddddd 583px,#d0d0d0 641px,#cacaca 668px) 0 212px/668px 2px no-repeat,
linear-gradient(90deg,#cacaca 0px,#d0d0d0 28px,#dddddd 85px,#e1e1e1 108px,#e6e6e6 157px,#e9e9e9 211px,#e9e9e9 334px,#e9e9e9 457px,#e6e6e6 511px,#e1e1e1 560px,#dddddd 583px,#d0d0d0 640px,#cacaca 668px) 0 214px/668px 2px no-repeat,
linear-gradient(90deg,#cacaca 0px,#d0d0d0 28px,#dddddd 85px,#e1e1e1 109px,#e6e6e6 158px,#e9e9e9 213px,#e9e9e9 334px,#e9e9e9 455px,#e6e6e6 510px,#e1e1e1 559px,#dddddd 583px,#d0d0d0 640px,#cacaca 668px) 0 216px/668px 2px no-repeat,
linear-gradient(90deg,#cacaca 0px,#d0d0d0 28px,#dddddd 85px,#e1e1e1 110px,#e6e6e6 159px,#e8e8e8 214px,#e9e9e9 334px,#e8e8e8 454px,#e6e6e6 509px,#e1e1e1 558px,#dddddd 583px,#d0d0d0 640px,#cacaca 668px) 0 218px/668px 2px no-repeat,
linear-gradient(90deg,#cacaca 0px,#d0d0d0 29px,#dddddd 85px,#e1e1e1 110px,#e6e6e6 159px,#e8e8e8 215px,#e9e9e9 334px,#e8e8e8 453px,#e6e6e6 509px,#e1e1e1 558px,#dddddd 583px,#d0d0d0 639px,#cacaca 668px) 0 220px/668px 2px no-repeat,
linear-gradient(90deg,#cacaca 0px,#d0d0d0 29px,#dddddd 85px,#e1e1e1 111px,#e6e6e6 160px,#e8e8e8 217px,#e9e9e9 334px,#e8e8e8 451px,#e6e6e6 508px,#e1e1e1 557px,#dddddd 583px,#d0d0d0 639px,#cacaca 668px) 0 222px/668px 2px no-repeat,
linear-gradient(90deg,#cacaca 0px,#d0d0d0 29px,#dddddd 85px,#e1e1e1 112px,#e6e6e6 162px,#e8e8e8 220px,#e8e8e8 334px,#e8e8e8 448px,#e6e6e6 506px,#e1e1e1 556px,#dddddd 583px,#d0d0d0 639px,#cacaca 668px) 0 224px/668px 2px no-repeat,
linear-gradient(90deg,#cacaca 0px,#d0d0d0 29px,#dcdcdc 85px,#e1e1e1 113px,#e6e6e6 163px,#e8e8e8 222px,#e8e8e8 334px,#e8e8e8 446px,#e6e6e6 505px,#e1e1e1 555px,#dcdcdc 583px,#d0d0d0 639px,#cacaca 668px) 0 226px/668px 2px no-repeat,
linear-gradient(90deg,#cacaca 0px,#d0d0d0 30px,#dcdcdc 85px,#e1e1e1 113px,#e5e5e5 163px,#e8e8e8 222px,#e8e8e8 334px,#e8e8e8 446px,#e5e5e5 505px,#e1e1e1 555px,#dcdcdc 583px,#d0d0d0 638px,#cacaca 668px) 0 228px/668px 2px no-repeat,
linear-gradient(90deg,#cacaca 0px,#d0d0d0 30px,#dcdcdc 85px,#e1e1e1 114px,#e5e5e5 164px,#e7e7e7 224px,#e8e8e8 334px,#e7e7e7 444px,#e5e5e5 504px,#e1e1e1 554px,#dcdcdc 583px,#d0d0d0 638px,#cacaca 668px) 0 230px/668px 2px no-repeat,
linear-gradient(90deg,#cacaca 0px,#d0d0d0 30px,#dcdcdc 85px,#e1e1e1 115px,#e5e5e5 165px,#e7e7e7 226px,#e7e7e7 334px,#e7e7e7 442px,#e5e5e5 503px,#e1e1e1 553px,#dcdcdc 583px,#d0d0d0 638px,#cacaca 668px) 0 232px/668px 2px no-repeat,
linear-gradient(90deg,#cacaca 0px,#d0d0d0 31px,#dcdcdc 85px,#e1e1e1 116px,#e5e5e5 166px,#e7e7e7 228px,#e7e7e7 334px,#e7e7e7 440px,#e5e5e5 502px,#e1e1e1 552px,#dcdcdc 583px,#d0d0d0 637px,#cacaca 668px) 0 234px/668px 2px no-repeat,
linear-gradient(90deg,#c9c9c9 0px,#d0d0d0 32px,#dcdcdc 86px,#e1e1e1 117px,#e5e5e5 167px,#e7e7e7 230px,#e7e7e7 334px,#e7e7e7 438px,#e5e5e5 501px,#e1e1e1 551px,#dcdcdc 582px,#d0d0d0 636px,#c9c9c9 668px) 0 236px/668px 2px no-repeat,
linear-gradient(90deg,#c9c9c9 0px,#d0d0d0 32px,#dcdcdc 86px,#e1e1e1 118px,#e5e5e5 168px,#e7e7e7 232px,#e7e7e7 334px,#e7e7e7 436px,#e5e5e5 500px,#e1e1e1 550px,#dcdcdc 582px,#d0d0d0 636px,#c9c9c9 668px) 0 238px/668px 2px no-repeat,
linear-gradient(90deg,#c9c9c9 0px,#d0d0d0 32px,#dcdcdc 86px,#e1e1e1 119px,#e5e5e5 170px,#e6e6e6 236px,#e7e7e7 334px,#e6e6e6 432px,#e5e5e5 498px,#e1e1e1 549px,#dcdcdc 582px,#d0d0d0 636px,#c9c9c9 668px) 0 240px/668px 2px no-repeat,
linear-gradient(90deg,#c9c9c9 0px,#d0d0d0 33px,#dbdbdb 86px,#e1e1e1 120px,#e5e5e5 171px,#e6e6e6 238px,#e6e6e6 334px,#e6e6e6 430px,#e5e5e5 497px,#e1e1e1 548px,#dbdbdb 582px,#d0d0d0 635px,#c9c9c9 668px) 0 242px/668px 2px no-repeat,
linear-gradient(90deg,#c9c9c9 0px,#d0d0d0 33px,#dbdbdb 86px,#e1e1e1 121px,#e4e4e4 172px,#e6e6e6 240px,#e6e6e6 334px,#e6e6e6 428px,#e4e4e4 496px,#e1e1e1 547px,#dbdbdb 582px,#d0d0d0 635px,#c9c9c9 668px) 0 244px/668px 2px no-repeat,
linear-gradient(90deg,#c9c9c9 0px,#d0d0d0 34px,#dbdbdb 87px,#e1e1e1 122px,#e4e4e4 173px,#e6e6e6 243px,#e6e6e6 334px,#e6e6e6 425px,#e4e4e4 495px,#e1e1e1 546px,#dbdbdb 581px,#d0d0d0 634px,#c9c9c9 668px) 0 246px/668px 2px no-repeat,
linear-gradient(90deg,#c9c9c9 0px,#d0d0d0 34px,#dbdbdb 86px,#e1e1e1 123px,#e4e4e4 175px,#e6e6e6 247px,#e6e6e6 334px,#e6e6e6 421px,#e4e4e4 493px,#e1e1e1 545px,#dbdbdb 582px,#d0d0d0 634px,#c9c9c9 668px) 0 248px/668px 2px no-repeat,
linear-gradient(90deg,#c9c9c9 0px,#d0d0d0 34px,#dbdbdb 86px,#e1e1e1 124px,#e4e4e4 176px,#e6e6e6 249px,#e6e6e6 334px,#e6e6e6 419px,#e4e4e4 492px,#e1e1e1 544px,#dbdbdb 582px,#d0d0d0 634px,#c9c9c9 668px) 0 250px/668px 2px no-repeat,
linear-gradient(90deg,#c9c9c9 0px,#d0d0d0 35px,#dbdbdb 87px,#e1e1e1 125px,#e4e4e4 177px,#e5e5e5 252px,#e5e5e5 334px,#e5e5e5 416px,#e4e4e4 491px,#e1e1e1 543px,#dbdbdb 581px,#d0d0d0 633px,#c9c9c9 668px) 0 252px/668px 2px no-repeat,
linear-gradient(90deg,#c9c9c9 0px,#d0d0d0 35px,#dbdbdb 87px,#e0e0e0 126px,#e4e4e4 179px,#e5e5e5 257px,#e5e5e5 334px,#e5e5e5 411px,#e4e4e4 489px,#e0e0e0 542px,#dbdbdb 581px,#d0d0d0 633px,#c9c9c9 668px) 0 254px/668px 2px no-repeat,
linear-gradient(90deg,#c9c9c9 0px,#d0d0d0 36px,#dadada 87px,#e0e0e0 127px,#e4e4e4 180px,#e5e5e5 260px,#e5e5e5 334px,#e5e5e5 408px,#e4e4e4 488px,#e0e0e0 541px,#dadada 581px,#d0d0d0 632px,#c9c9c9 668px) 0 256px/668px 2px no-repeat,
linear-gradient(90deg,#c9c9c9 0px,#d0d0d0 36px,#dadada 87px,#e0e0e0 128px,#e4e4e4 181px,#e5e5e5 263px,#e5e5e5 334px,#e5e5e5 405px,#e4e4e4 487px,#e0e0e0 540px,#dadada 581px,#d0d0d0 632px,#c9c9c9 668px) 0 258px/668px 2px no-repeat,
linear-gradient(90deg,#c9c9c9 0px,#d0d0d0 37px,#dadada 88px,#e0e0e0 130px,#e3e3e3 184px,#e5e5e5 271px,#e5e5e5 334px,#e5e5e5 397px,#e3e3e3 484px,#e0e0e0 538px,#dadada 580px,#d0d0d0 631px,#c9c9c9 668px) 0 260px/668px 2px no-repeat,
linear-gradient(90deg,#c9c9c9 0px,#d0d0d0 38px,#dadada 89px,#e0e0e0 131px,#e3e3e3 185px,#e4e4e4 275px,#e4e4e4 334px,#e4e4e4 393px,#e3e3e3 483px,#e0e0e0 537px,#dadada 579px,#d0d0d0 630px,#c9c9c9 668px) 0 262px/668px 2px no-repeat,
linear-gradient(90deg,#c9c9c9 0px,#d0d0d0 38px,#dadada 89px,#e0e0e0 132px,#e3e3e3 187px,#e4e4e4 281px,#e4e4e4 334px,#e4e4e4 387px,#e3e3e3 481px,#e0e0e0 536px,#dadada 579px,#d0d0d0 630px,#c9c9c9 668px) 0 264px/668px 2px no-repeat,
linear-gradient(90deg,#c9c9c9 0px,#d0d0d0 39px,#dadada 89px,#e0e0e0 133px,#e3e3e3 188px,#e4e4e4 285px,#e4e4e4 334px,#e4e4e4 383px,#e3e3e3 480px,#e0e0e0 535px,#dadada 579px,#d0d0d0 629px,#c9c9c9 668px) 0 266px/668px 2px no-repeat,
linear-gradient(90deg,#c9c9c9 0px,#d0d0d0 39px,#dadada 89px,#e0e0e0 133px,#e3e3e3 185px,#e4e4e4 278px,#e4e4e4 334px,#e4e4e4 390px,#e3e3e3 483px,#e0e0e0 535px,#dadada 579px,#d0d0d0 629px,#c9c9c9 668px) 0 268px/668px 2px no-repeat,
linear-gradient(90deg,#c9c9c9 0px,#d0d0d0 40px,#dadada 90px,#e0e0e0 134px,#e3e3e3 185px,#e4e4e4 279px,#e4e4e4 334px,#e4e4e4 389px,#e3e3e3 483px,#e0e0e0 534px,#dadada 578px,#d0d0d0 628px,#c9c9c9 668px) 0 270px/668px 2px no-repeat,
linear-gradient(90deg,#c8c8c8 0px,#d0d0d0 40px,#dadada 90px,#e0e0e0 134px,#e2e2e2 182px,#e3e3e3 272px,#e3e3e3 334px,#e3e3e3 396px,#e2e2e2 486px,#e0e0e0 534px,#dadada 578px,#d0d0d0 628px,#c8c8c8 668px) 0 272px/668px 2px no-repeat,
linear-gradient(90deg,#c8c8c8 0px,#d0d0d0 41px,#dadada 91px,#dfdfdf 135px,#e2e2e2 181px,#e3e3e3 270px,#e3e3e3 334px,#e3e3e3 398px,#e2e2e2 487px,#dfdfdf 533px,#dadada 577px,#d0d0d0 627px,#c8c8c8 668px) 0 274px/668px 2px no-repeat,
linear-gradient(90deg,#c8c8c8 0px,#d0d0d0 41px,#d9d9d9 90px,#dfdfdf 134px,#e2e2e2 173px,#e3e3e3 252px,#e3e3e3 334px,#e3e3e3 416px,#e2e2e2 495px,#dfdfdf 534px,#d9d9d9 578px,#d0d0d0 627px,#c8c8c8 668px) 0 276px/668px 2px no-repeat,
linear-gradient(90deg,#c8c8c8 0px,#d0d0d0 43px,#d9d9d9 92px,#dfdfdf 137px,#e2e2e2 179px,#e3e3e3 267px,#e3e3e3 334px,#e3e3e3 401px,#e2e2e2 489px,#dfdfdf 531px,#d9d9d9 576px,#d0d0d0 625px,#c8c8c8 668px) 0 278px/668px 2px no-repeat,
linear-gradient(90deg,#c8c8c8 0px,#d0d0d0 43px,#d9d9d9 92px,#dfdfdf 137px,#e1e1e1 174px,#e3e3e3 256px,#e3e3e3 334px,#e3e3e3 412px,#e1e1e1 494px,#dfdfdf 531px,#d9d9d9 576px,#d0d0d0 625px,#c8c8c8 668px) 0 280px/668px 2px no-repeat,
linear-gradient(90deg,#c8c8c8 0px,#d0d0d0 44px,#d9d9d9 93px,#dfdfdf 138px,#e1e1e1 175px,#e2e2e2 259px,#e2e2e2 334px,#e2e2e2 409px,#e1e1e1 493px,#dfdfdf 530px,#d9d9d9 575px,#d0d0d0 624px,#c8c8c8 668px) 0 282px/668px 2px no-repeat,
linear-gradient(90deg,#c8c8c8 0px,#d0d0d0 44px,#d9d9d9 93px,#dfdfdf 138px,#e1e1e1 175px,#e2e2e2 260px,#e2e2e2 334px,#e2e2e2 408px,#e1e1e1 493px,#dfdfdf 530px,#d9d9d9 575px,#d0d0d0 624px,#c8c8c8 668px) 0 284px/668px 2px no-repeat,
linear-gradient(90deg,#c8c8c8 0px,#d0d0d0 46px,#d9d9d9 94px,#dedede 139px,#e1e1e1 178px,#e2e2e2 268px,#e2e2e2 334px,#e2e2e2 400px,#e1e1e1 490px,#dedede 529px,#d9d9d9 574px,#d0d0d0 622px,#c8c8c8 668px) 0 286px/668px 2px no-repeat,
linear-gradient(90deg,#c8c8c8 0px,#d0d0d0 46px,#d9d9d9 94px,#dedede 139px,#e1e1e1 180px,#e2e2e2 274px,#e2e2e2 334px,#e2e2e2 394px,#e1e1e1 488px,#dedede 529px,#d9d9d9 574px,#d0d0d0 622px,#c8c8c8 668px) 0 288px/668px 2px no-repeat,
linear-gradient(90deg,#c8c8c8 0px,#d1d1d1 48px,#d9d9d9 96px,#dedede 141px,#e1e1e1 184px,#e2e2e2 287px,#e2e2e2 334px,#e2e2e2 381px,#e1e1e1 484px,#dedede 527px,#d9d9d9 572px,#d1d1d1 620px,#c8c8c8 668px) 0 290px/668px 2px no-repeat,
linear-gradient(90deg,#c8c8c8 0px,#d0d0d0 48px,#d9d9d9 96px,#dedede 141px,#e0e0e0 187px,#e1e1e1 299px,#e1e1e1 334px,#e1e1e1 369px,#e0e0e0 481px,#dedede 527px,#d9d9d9 572px,#d0d0d0 620px,#c8c8c8 668px) 0 292px/668px 2px no-repeat,
linear-gradient(90deg,#c8c8c8 0px,#d1d1d1 49px,#d9d9d9 97px,#dedede 142px,#e0e0e0 191px,#e1e1e1 320px,#e1e1e1 334px,#e1e1e1 348px,#e0e0e0 477px,#dedede 526px,#d9d9d9 571px,#d1d1d1 619px,#c8c8c8 668px) 0 294px/668px 2px no-repeat,
linear-gradient(90deg,#c8c8c8 0px,#d1d1d1 50px,#d9d9d9 98px,#dedede 143px,#e0e0e0 194px,#e1e1e1 334px,#e0e0e0 474px,#dedede 525px,#d9d9d9 570px,#d1d1d1 618px,#c8c8c8 668px) 0 296px/668px 2px no-repeat,
linear-gradient(90deg,#c8c8c8 0px,#d1d1d1 51px,#d9d9d9 98px,#dddddd 144px,#e0e0e0 197px,#e1e1e1 334px,#e0e0e0 471px,#dddddd 524px,#d9d9d9 570px,#d1d1d1 617px,#c8c8c8 668px) 0 298px/668px 2px no-repeat,
linear-gradient(90deg,#c8c8c8 0px,#d1d1d1 53px,#d9d9d9 100px,#dddddd 146px,#e0e0e0 200px,#e1e1e1 334px,#e0e0e0 468px,#dddddd 522px,#d9d9d9 568px,#d1d1d1 615px,#c8c8c8 668px) 0 300px/668px 2px no-repeat,
linear-gradient(90deg,#c7c7c7 0px,#d1d1d1 54px,#d9d9d9 101px,#dddddd 147px,#e0e0e0 202px,#e0e0e0 334px,#e0e0e0 466px,#dddddd 521px,#d9d9d9 567px,#d1d1d1 614px,#c7c7c7 668px) 0 302px/668px 2px no-repeat,
linear-gradient(90deg,#c7c7c7 0px,#d1d1d1 55px,#d8d8d8 102px,#dddddd 148px,#dfdfdf 204px,#e0e0e0 334px,#dfdfdf 464px,#dddddd 520px,#d8d8d8 566px,#d1d1d1 613px,#c7c7c7 668px) 0 304px/668px 2px no-repeat,
linear-gradient(90deg,#c7c7c7 0px,#d1d1d1 58px,#d9d9d9 105px,#dddddd 152px,#dfdfdf 210px,#e0e0e0 334px,#dfdfdf 458px,#dddddd 516px,#d9d9d9 563px,#d1d1d1 610px,#c7c7c7 668px) 0 306px/668px 2px no-repeat,
linear-gradient(90deg,#c7c7c7 0px,#d1d1d1 59px,#d9d9d9 106px,#dddddd 153px,#dfdfdf 212px,#e0e0e0 334px,#dfdfdf 456px,#dddddd 515px,#d9d9d9 562px,#d1d1d1 609px,#c7c7c7 668px) 0 308px/668px 2px no-repeat,
linear-gradient(90deg,#c7c7c7 0px,#d2d2d2 61px,#d9d9d9 108px,#dddddd 155px,#dfdfdf 215px,#dfdfdf 334px,#dfdfdf 453px,#dddddd 513px,#d9d9d9 560px,#d2d2d2 607px,#c7c7c7 668px) 0 310px/668px 2px no-repeat,
linear-gradient(90deg,#c7c7c7 0px,#d7d7d7 94px,#dbdbdb 140px,#dedede 194px,#dfdfdf 305px,#dfdfdf 334px,#dfdfdf 363px,#dedede 474px,#dbdbdb 528px,#d7d7d7 574px,#c7c7c7 668px) 0 312px/668px 2px no-repeat,
linear-gradient(90deg,#c7c7c7 0px,#d6d6d6 94px,#dbdbdb 140px,#dedede 194px,#dfdfdf 306px,#dfdfdf 334px,#dfdfdf 362px,#dedede 474px,#dbdbdb 528px,#d6d6d6 574px,#c7c7c7 668px) 0 314px/668px 2px no-repeat,
linear-gradient(90deg,#c7c7c7 0px,#d6d6d6 94px,#dbdbdb 140px,#dedede 195px,#dedede 312px,#dedede 334px,#dedede 356px,#dedede 473px,#dbdbdb 528px,#d6d6d6 574px,#c7c7c7 668px) 0 316px/668px 2px no-repeat,
linear-gradient(90deg,#c7c7c7 0px,#d6d6d6 95px,#dbdbdb 142px,#dddddd 198px,#dedede 331px,#dedede 334px,#dedede 337px,#dddddd 470px,#dbdbdb 526px,#d6d6d6 573px,#c7c7c7 668px) 0 318px/668px 2px no-repeat,
linear-gradient(90deg,#c7c7c7 0px,#d6d6d6 95px,#dbdbdb 142px,#dddddd 198px,#dedede 333px,#dedede 334px,#dedede 335px,#dddddd 470px,#dbdbdb 526px,#d6d6d6 573px,#c7c7c7 668px) 0 320px/668px 2px no-repeat,
linear-gradient(90deg,#c7c7c7 0px,#d6d6d6 95px,#dadada 142px,#dddddd 199px,#dedede 334px,#dddddd 469px,#dadada 526px,#d6d6d6 573px,#c7c7c7 668px) 0 322px/668px 2px no-repeat,
linear-gradient(90deg,#c7c7c7 0px,#d6d6d6 95px,#dadada 142px,#dddddd 199px,#dddddd 334px,#dddddd 469px,#dadada 526px,#d6d6d6 573px,#c7c7c7 668px) 0 324px/668px 2px no-repeat,
linear-gradient(90deg,#c7c7c7 0px,#d5d5d5 96px,#dadada 143px,#dcdcdc 201px,#dddddd 334px,#dcdcdc 467px,#dadada 525px,#d5d5d5 572px,#c7c7c7 668px) 0 326px/668px 2px no-repeat,
linear-gradient(90deg,#c6c6c6 0px,#d5d5d5 96px,#dadada 143px,#dcdcdc 201px,#dddddd 334px,#dcdcdc 467px,#dadada 525px,#d5d5d5 572px,#c6c6c6 668px) 0 328px/668px 2px no-repeat,
linear-gradient(90deg,#c6c6c6 0px,#d5d5d5 96px,#dadada 144px,#dcdcdc 203px,#dcdcdc 334px,#dcdcdc 465px,#dadada 524px,#d5d5d5 572px,#c6c6c6 668px) 0 330px/668px 2px no-repeat,
linear-gradient(90deg,#c6c6c6 0px,#d5d5d5 96px,#d9d9d9 144px,#dcdcdc 203px,#dcdcdc 334px,#dcdcdc 465px,#d9d9d9 524px,#d5d5d5 572px,#c6c6c6 668px) 0 332px/668px 2px no-repeat,
linear-gradient(90deg,#c6c6c6 0px,#d5d5d5 97px,#d9d9d9 145px,#dbdbdb 205px,#dcdcdc 334px,#dbdbdb 463px,#d9d9d9 523px,#d5d5d5 571px,#c6c6c6 668px) 0 334px/668px 2px no-repeat,
linear-gradient(90deg,#c6c6c6 0px,#d5d5d5 97px,#d9d9d9 145px,#dbdbdb 205px,#dcdcdc 334px,#dbdbdb 463px,#d9d9d9 523px,#d5d5d5 571px,#c6c6c6 668px) 0 336px/668px 2px no-repeat,
linear-gradient(90deg,#c6c6c6 0px,#d4d4d4 97px,#d9d9d9 145px,#dbdbdb 206px,#dbdbdb 334px,#dbdbdb 462px,#d9d9d9 523px,#d4d4d4 571px,#c6c6c6 668px) 0 338px/668px 2px no-repeat,
linear-gradient(90deg,#c6c6c6 0px,#d4d4d4 97px,#d8d8d8 145px,#dbdbdb 206px,#dbdbdb 334px,#dbdbdb 462px,#d8d8d8 523px,#d4d4d4 571px,#c6c6c6 668px) 0 340px/668px 2px no-repeat,
linear-gradient(90deg,#c6c6c6 0px,#d4d4d4 98px,#d8d8d8 147px,#dadada 209px,#dbdbdb 334px,#dadada 459px,#d8d8d8 521px,#d4d4d4 570px,#c6c6c6 668px) 0 342px/668px 2px no-repeat,
linear-gradient(90deg,#c6c6c6 0px,#d4d4d4 98px,#d8d8d8 147px,#dadada 210px,#dadada 334px,#dadada 458px,#d8d8d8 521px,#d4d4d4 570px,#c6c6c6 668px) 0 344px/668px 2px no-repeat,
linear-gradient(90deg,#c6c6c6 0px,#d3d3d3 97px,#d8d8d8 146px,#dadada 209px,#dadada 334px,#dadada 459px,#d8d8d8 522px,#d3d3d3 571px,#c6c6c6 668px) 0 346px/668px 2px no-repeat,
linear-gradient(90deg,#c6c6c6 0px,#d3d3d3 94px,#d7d7d7 143px,#d9d9d9 205px,#dadada 334px,#d9d9d9 463px,#d7d7d7 525px,#d3d3d3 574px,#c6c6c6 668px) 0 348px/668px 2px no-repeat,
linear-gradient(90deg,#c5c5c5 0px,#d2d2d2 92px,#d7d7d7 141px,#d9d9d9 202px,#dadada 334px,#d9d9d9 466px,#d7d7d7 527px,#d2d2d2 576px,#c5c5c5 668px) 0 350px/668px 2px no-repeat,
linear-gradient(90deg,#c5c5c5 0px,#d2d2d2 89px,#d6d6d6 138px,#d9d9d9 198px,#d9d9d9 334px,#d9d9d9 470px,#d6d6d6 530px,#d2d2d2 579px,#c5c5c5 668px) 0 352px/668px 2px no-repeat,
linear-gradient(90deg,#c5c5c5 0px,#d1d1d1 86px,#d6d6d6 134px,#d8d8d8 193px,#d9d9d9 334px,#d8d8d8 475px,#d6d6d6 534px,#d1d1d1 582px,#c5c5c5 668px) 0 354px/668px 2px no-repeat,
linear-gradient(90deg,#c5c5c5 0px,#cecece 61px,#d4d4d4 110px,#d7d7d7 162px,#d9d9d9 238px,#d9d9d9 334px,#d9d9d9 430px,#d7d7d7 506px,#d4d4d4 558px,#cecece 607px,#c5c5c5 668px) 0 356px/668px 2px no-repeat,
linear-gradient(90deg,#c5c5c5 0px,#cdcdcd 60px,#d4d4d4 111px,#d7d7d7 163px,#d8d8d8 241px,#d8d8d8 334px,#d8d8d8 427px,#d7d7d7 505px,#d4d4d4 557px,#cdcdcd 608px,#c5c5c5 668px) 0 358px/668px 2px no-repeat,
linear-gradient(90deg,#c5c5c5 0px,#cdcdcd 60px,#d4d4d4 113px,#d7d7d7 166px,#d8d8d8 248px,#d8d8d8 334px,#d8d8d8 420px,#d7d7d7 502px,#d4d4d4 555px,#cdcdcd 608px,#c5c5c5 668px) 0 360px/668px 2px no-repeat,
linear-gradient(90deg,#c5c5c5 0px,#cdcdcd 60px,#d3d3d3 114px,#d7d7d7 168px,#d8d8d8 253px,#d8d8d8 334px,#d8d8d8 415px,#d7d7d7 500px,#d3d3d3 554px,#cdcdcd 608px,#c5c5c5 668px) 0 362px/668px 2px no-repeat,
linear-gradient(90deg,#c5c5c5 0px,#cdcdcd 60px,#d3d3d3 116px,#d6d6d6 170px,#d8d8d8 258px,#d8d8d8 334px,#d8d8d8 410px,#d6d6d6 498px,#d3d3d3 552px,#cdcdcd 608px,#c5c5c5 668px) 0 364px/668px 2px no-repeat,
linear-gradient(90deg,#c5c5c5 0px,#cdcdcd 60px,#d3d3d3 117px,#d6d6d6 172px,#d7d7d7 264px,#d7d7d7 334px,#d7d7d7 404px,#d6d6d6 496px,#d3d3d3 551px,#cdcdcd 608px,#c5c5c5 668px) 0 366px/668px 2px no-repeat,
linear-gradient(90deg,#c5c5c5 0px,#cdcdcd 60px,#d3d3d3 118px,#d6d6d6 173px,#d7d7d7 268px,#d7d7d7 334px,#d7d7d7 400px,#d6d6d6 495px,#d3d3d3 550px,#cdcdcd 608px,#c5c5c5 668px) 0 368px/668px 2px no-repeat,
linear-gradient(90deg,#c5c5c5 0px,#cdcdcd 60px,#d3d3d3 120px,#d6d6d6 176px,#d7d7d7 277px,#d7d7d7 334px,#d7d7d7 391px,#d6d6d6 492px,#d3d3d3 548px,#cdcdcd 608px,#c5c5c5 668px) 0 370px/668px 2px no-repeat,
linear-gradient(90deg,#c4c4c4 0px,#cccccc 60px,#d3d3d3 121px,#d6d6d6 178px,#d7d7d7 284px,#d7d7d7 334px,#d7d7d7 384px,#d6d6d6 490px,#d3d3d3 547px,#cccccc 608px,#c4c4c4 668px) 0 372px/668px 2px no-repeat,
linear-gradient(90deg,#c4c4c4 0px,#cccccc 60px,#d3d3d3 122px,#d5d5d5 179px,#d6d6d6 289px,#d6d6d6 334px,#d6d6d6 379px,#d5d5d5 489px,#d3d3d3 546px,#cccccc 608px,#c4c4c4 668px) 0 374px/668px 2px no-repeat,
linear-gradient(90deg,#c4c4c4 0px,#cccccc 60px,#d3d3d3 124px,#d5d5d5 182px,#d6d6d6 302px,#d6d6d6 334px,#d6d6d6 366px,#d5d5d5 486px,#d3d3d3 544px,#cccccc 608px,#c4c4c4 668px) 0 376px/668px 2px no-repeat,
linear-gradient(90deg,#c4c4c4 0px,#cccccc 60px,#d2d2d2 125px,#d5d5d5 184px,#d6d6d6 313px,#d6d6d6 334px,#d6d6d6 355px,#d5d5d5 484px,#d2d2d2 543px,#cccccc 608px,#c4c4c4 668px) 0 378px/668px 2px no-repeat,
linear-gradient(90deg,#c4c4c4 0px,#cccccc 60px,#d2d2d2 126px,#d5d5d5 186px,#d5d5d5 326px,#d5d5d5 334px,#d5d5d5 342px,#d5d5d5 482px,#d2d2d2 542px,#cccccc 608px,#c4c4c4 668px) 0 380px/668px 2px no-repeat,
linear-gradient(90deg,#c4c4c4 0px,#cccccc 60px,#d2d2d2 127px,#d4d4d4 188px,#d5d5d5 334px,#d4d4d4 480px,#d2d2d2 541px,#cccccc 608px,#c4c4c4 668px) 0 382px/668px 2px no-repeat,
linear-gradient(90deg,#c4c4c4 0px,#cccccc 60px,#d2d2d2 129px,#d4d4d4 191px,#d5d5d5 334px,#d4d4d4 477px,#d2d2d2 539px,#cccccc 608px,#c4c4c4 668px) 0 384px/668px 2px no-repeat,
linear-gradient(90deg,#c4c4c4 0px,#cbcbcb 60px,#d2d2d2 130px,#d4d4d4 193px,#d5d5d5 334px,#d4d4d4 475px,#d2d2d2 538px,#cbcbcb 608px,#c4c4c4 668px) 0 386px/668px 2px no-repeat,
linear-gradient(90deg,#c4c4c4 0px,#cbcbcb 60px,#d1d1d1 131px,#d4d4d4 194px,#d4d4d4 334px,#d4d4d4 474px,#d1d1d1 537px,#cbcbcb 608px,#c4c4c4 668px) 0 388px/668px 2px no-repeat,
linear-gradient(90deg,#c4c4c4 0px,#cbcbcb 60px,#d1d1d1 132px,#d4d4d4 196px,#d4d4d4 334px,#d4d4d4 472px,#d1d1d1 536px,#cbcbcb 608px,#c4c4c4 668px) 0 390px/668px 2px no-repeat,
linear-gradient(90deg,#c3c3c3 0px,#cbcbcb 60px,#d1d1d1 134px,#d3d3d3 200px,#d4d4d4 334px,#d3d3d3 468px,#d1d1d1 534px,#cbcbcb 608px,#c3c3c3 668px) 0 392px/668px 2px no-repeat,
linear-gradient(90deg,#c3c3c3 0px,#cbcbcb 60px,#d1d1d1 135px,#d3d3d3 202px,#d3d3d3 334px,#d3d3d3 466px,#d1d1d1 533px,#cbcbcb 608px,#c3c3c3 668px) 0 394px/668px 2px no-repeat,
linear-gradient(90deg,#c3c3c3 0px,#cbcbcb 60px,#d1d1d1 136px,#d3d3d3 203px,#d3d3d3 334px,#d3d3d3 465px,#d1d1d1 532px,#cbcbcb 608px,#c3c3c3 668px) 0 396px/668px 2px no-repeat,
linear-gradient(90deg,#c3c3c3 0px,#cbcbcb 60px,#d1d1d1 137px,#d3d3d3 205px,#d3d3d3 334px,#d3d3d3 463px,#d1d1d1 531px,#cbcbcb 608px,#c3c3c3 668px) 0 398px/668px 2px no-repeat;
font-family:"Liberation Sans", "Noto Sans CJK SC", sans-serif;}
svg{position:absolute;left:0;top:0;}
.dl{font-family:"Liberation Sans", "Noto Sans CJK SC", sans-serif;font-size:6.6px;font-weight:bold;fill:#fff;stroke:#fff;stroke-width:0.25px;text-anchor:middle;}
.lg{font-family:"Liberation Sans", "Noto Sans CJK SC", sans-serif;fill:#404040;}
.cl{font-family:"Liberation Sans", "Noto Sans CJK SC", sans-serif;font-size:6.6px;fill:#404040;}
.title{position:absolute;left:-0.3px;width:668px;top:4.6px;text-align:center;font-size:14px;line-height:20px;letter-spacing:0.95px;text-indent:0.95px;color:#404040;font-weight:500;transform:scaleY(0.9);transform-origin:50% 50%;}
</style></head><body>
<div class="title">理论性能测试对比</div>
<svg width="668" height="400" viewBox="0 0 668 400">
<rect x="7.0" y="321.90" width="653.0" height="1" fill="#000" fill-opacity="0.450"/>
<rect x="7.0" y="289.87" width="653.0" height="1" fill="#000" fill-opacity="0.350"/>
<rect x="7.0" y="257.87" width="653.0" height="1" fill="#000" fill-opacity="0.270"/>
<rect x="7.0" y="225.87" width="653.0" height="1" fill="#000" fill-opacity="0.200"/>
<rect x="7.0" y="193.92" width="653.0" height="1" fill="#000" fill-opacity="0.110"/>
<rect x="7.0" y="161.97" width="653.0" height="1" fill="#000" fill-opacity="0.100"/>
<rect x="7.0" y="129.97" width="653.0" height="1" fill="#000" fill-opacity="0.095"/>
<rect x="7.0" y="97.97" width="653.0" height="1" fill="#000" fill-opacity="0.095"/>
<rect x="7.0" y="66.87" width="653.0" height="1" fill="#000" fill-opacity="0.100"/>
<rect x="7.0" y="34.87" width="653.0" height="1" fill="#000" fill-opacity="0.100"/>
<rect x="15.50" y="304.15" width="27.75" height="50.35" fill="#5b9bd5" fill-opacity="0.88" stroke="#c8def2" stroke-width="1.0"/>
<rect x="43.25" y="316.25" width="27.75" height="38.25" fill="#ed7d31" fill-opacity="0.88" stroke="#f9d4ba" stroke-width="1.0"/>
<rect x="88.06" y="346.06" width="27.75" height="8.44" fill="#5b9bd5" fill-opacity="0.88" stroke="#c8def2" stroke-width="1.0"/>
<rect x="115.81" y="346.75" width="27.75" height="7.75" fill="#ed7d31" fill-opacity="0.88" stroke="#f9d4ba" stroke-width="1.0"/>
<rect x="160.61" y="332.26" width="27.75" height="22.24" fill="#5b9bd5" fill-opacity="0.88" stroke="#c8def2" stroke-width="1.0"/>
<rect x="188.36" y="336.44" width="27.75" height="18.06" fill="#ed7d31" fill-opacity="0.88" stroke="#f9d4ba" stroke-width="1.0"/>
<rect x="233.17" y="350.74" width="27.75" height="3.76" fill="#5b9bd5" fill-opacity="0.88" stroke="#c8def2" stroke-width="1.0"/>
<rect x="260.92" y="350.90" width="27.75" height="3.60" fill="#ed7d31" fill-opacity="0.88" stroke="#f9d4ba" stroke-width="1.0"/>
<rect x="305.72" y="345.78" width="27.75" height="8.72" fill="#5b9bd5" fill-opacity="0.88" stroke="#c8def2" stroke-width="1.0"/>
<rect x="333.47" y="346.19" width="27.75" height="8.31" fill="#ed7d31" fill-opacity="0.88" stroke="#f9d4ba" stroke-width="1.0"/>
<rect x="378.28" y="294.43" width="27.75" height="60.07" fill="#5b9bd5" fill-opacity="0.88" stroke="#c8def2" stroke-width="1.0"/>
<rect x="406.03" y="300.99" width="27.75" height="53.51" fill="#ed7d31" fill-opacity="0.88" stroke="#f9d4ba" stroke-width="1.0"/>
<rect x="450.83" y="62.65" width="27.75" height="291.85" fill="#5b9bd5" fill-opacity="0.88" stroke="#c8def2" stroke-width="1.0"/>
<rect x="478.58" y="114.58" width="27.75" height="239.92" fill="#ed7d31" fill-opacity="0.88" stroke="#f9d4ba" stroke-width="1.0"/>
<rect x="523.39" y="62.34" width="27.75" height="292.16" fill="#5b9bd5" fill-opacity="0.88" stroke="#c8def2" stroke-width="1.0"/>
<rect x="551.14" y="112.52" width="27.75" height="241.98" fill="#ed7d31" fill-opacity="0.88" stroke="#f9d4ba" stroke-width="1.0"/>
<rect x="595.94" y="204.42" width="27.75" height="150.08" fill="#5b9bd5" fill-opacity="0.88" stroke="#c8def2" stroke-width="1.0"/>
<rect x="623.69" y="232.17" width="27.75" height="122.33" fill="#ed7d31" fill-opacity="0.88" stroke="#f9d4ba" stroke-width="1.0"/>
<rect x="7.0" y="353.90" width="653.0" height="1.2" fill="#383838"/>
<rect x="7.0" y="355.40" width="653.0" height="0.9" fill="#fff" fill-opacity="0.3"/>
<text x="29.38" y="315.45" class="dl">3117</text>
<text x="57.12" y="327.55" class="dl">2359</text>
<text x="25.40" y="366.30" class="cl" style="font-size:6.6px" textLength="11.24" lengthAdjust="spacingAndGlyphs">R20</text>
<text x="36.64" y="366.30" class="cl" style="font-size:6.9px" textLength="23.06" lengthAdjust="spacingAndGlyphs">多线程</text>
<text x="101.93" y="348.40" class="dl">491</text>
<text x="129.68" y="348.40" class="dl">448</text>
<text x="98.60" y="366.30" class="cl" style="font-size:6.6px" textLength="11.05" lengthAdjust="spacingAndGlyphs">R20</text>
<text x="109.65" y="366.30" class="cl" style="font-size:6.9px" textLength="22.65" lengthAdjust="spacingAndGlyphs">单线程</text>
<text x="174.49" y="343.56" class="dl">1356</text>
<text x="202.24" y="347.74" class="dl">1094</text>
<text x="171.40" y="366.30" class="cl" style="font-size:6.6px" textLength="11.11" lengthAdjust="spacingAndGlyphs">R15</text>
<text x="182.51" y="366.30" class="cl" style="font-size:6.9px" textLength="22.79" lengthAdjust="spacingAndGlyphs">多线程</text>
<text x="247.04" y="348.40" class="dl">198</text>
<text x="274.79" y="348.40" class="dl">188</text>
<text x="244.40" y="366.30" class="cl" style="font-size:6.6px" textLength="10.98" lengthAdjust="spacingAndGlyphs">R15</text>
<text x="255.38" y="366.30" class="cl" style="font-size:6.9px" textLength="22.52" lengthAdjust="spacingAndGlyphs">单线程</text>
<text x="319.60" y="348.40" class="dl">509</text>
<text x="347.35" y="348.40" class="dl">483</text>
<text x="314.50" y="366.30" class="cl" style="font-size:6.6px" textLength="15.86" lengthAdjust="spacingAndGlyphs">CPUZ</text>
<text x="330.36" y="366.30" class="cl" style="font-size:6.9px" textLength="21.94" lengthAdjust="spacingAndGlyphs">单线程</text>
<text x="392.15" y="305.73" class="dl">3726</text>
<text x="419.90" y="312.29" class="dl">3315</text>
<text x="386.70" y="366.30" class="cl" style="font-size:6.6px" textLength="16.20" lengthAdjust="spacingAndGlyphs">CPUZ</text>
<text x="402.90" y="366.30" class="cl" style="font-size:6.9px" textLength="22.40" lengthAdjust="spacingAndGlyphs">多线程</text>
<text x="464.71" y="73.95" class="dl">18249</text>
<text x="492.46" y="125.88" class="dl">14995</text>
<text x="447.00" y="366.30" class="cl" style="font-size:6.6px" textLength="63.20" lengthAdjust="spacingAndGlyphs">3DMARK FIRE STRIKE</text>
<text x="464.70" y="375.10" class="cl" style="font-size:6.6px" textLength="12.70" lengthAdjust="spacingAndGlyphs">CPU</text>
<text x="477.40" y="375.10" class="cl" style="font-size:6.9px" textLength="15.10" lengthAdjust="spacingAndGlyphs">分数</text>
<text x="537.26" y="73.64" class="dl">18268</text>
<text x="565.01" y="123.82" class="dl">15124</text>
<text x="515.90" y="366.30" class="cl" style="font-size:6.6px" textLength="70.50" lengthAdjust="spacingAndGlyphs">3DMARK TIME SPY CPU</text>
<text x="544.00" y="375.10" class="cl" style="font-size:6.9px" textLength="14.60" lengthAdjust="spacingAndGlyphs">分数</text>
<text x="609.82" y="215.72" class="dl">9366</text>
<text x="637.57" y="243.47" class="dl">7627</text>
<text x="594.10" y="366.30" class="cl" style="font-size:6.6px" textLength="59.70" lengthAdjust="spacingAndGlyphs">V RAY BENCHMARK</text>
<text x="617.10" y="375.10" class="cl" style="font-size:6.6px" textLength="13.20" lengthAdjust="spacingAndGlyphs">CPU</text>
<rect x="267.8" y="382.2" width="131.1" height="14.5" fill="#ffffff" fill-opacity="0.35"/>
<rect x="278.2" y="388.2" width="3.6" height="3.6" fill="#5b9bd5" fill-opacity="0.88" stroke="#c8def2" stroke-width="0.5"/>
<rect x="328.2" y="388.2" width="3.6" height="3.6" fill="#ed7d31" fill-opacity="0.88" stroke="#f9d4ba" stroke-width="0.5"/>
<text x="284" y="392.1" class="lg" style="font-size:5.6px" textLength="34.2" lengthAdjust="spacingAndGlyphs">AORUS 15P</text>
<text x="333.6" y="392.3" class="lg" style="font-size:7.2px" textLength="29.8" lengthAdjust="spacingAndGlyphs">对比机型</text>
<text x="363.2" y="392.3" class="lg" style="font-size:7.2px" textLength="28.6" lengthAdjust="spacingAndGlyphs">（45W）</text>
</svg>
</body></html>
